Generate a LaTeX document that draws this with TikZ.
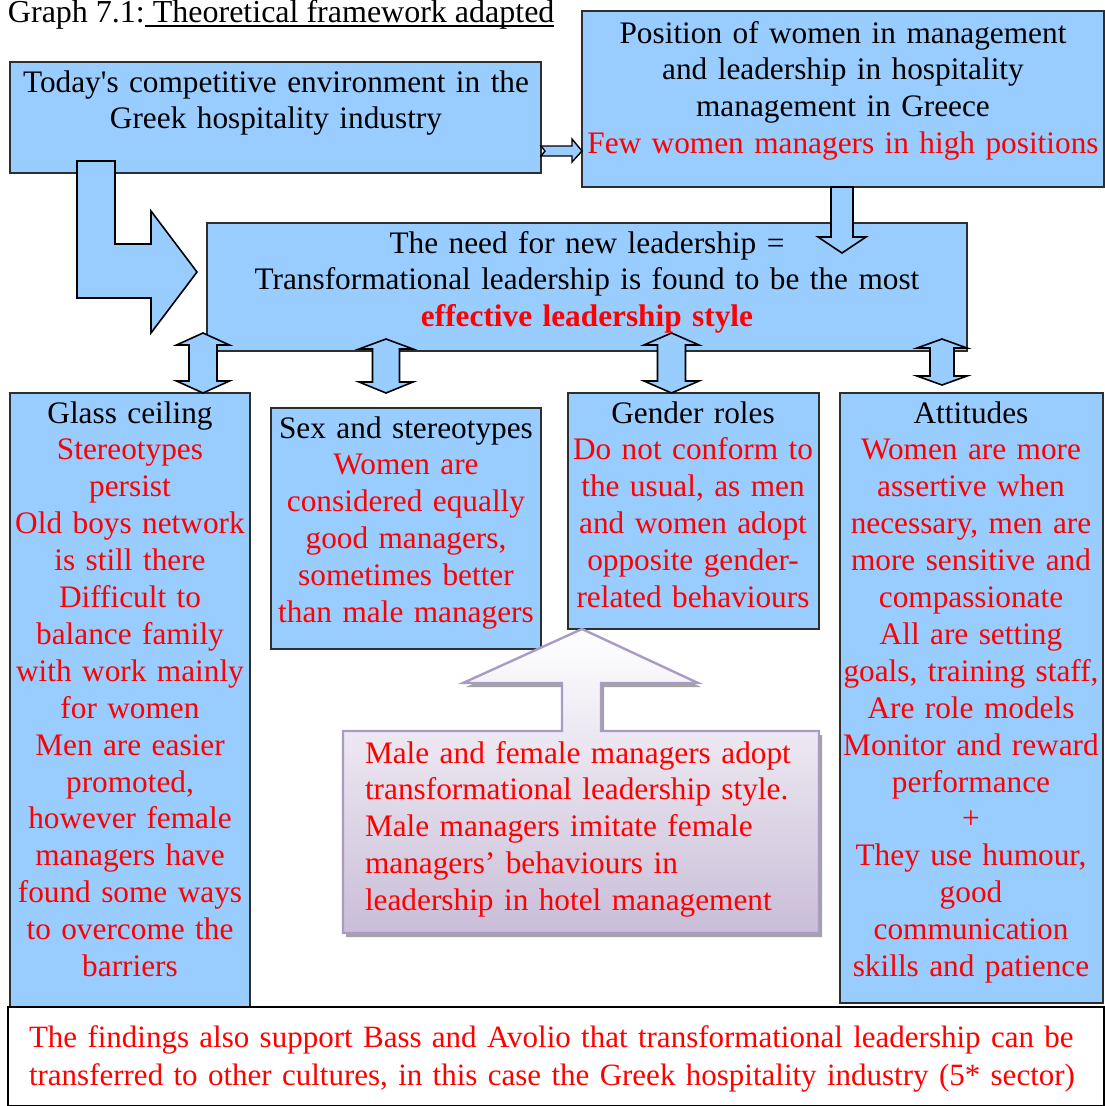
\documentclass[tikz,border=0pt]{standalone}
\usepackage{fontspec}
\setmainfont{Liberation Serif}
\setlength{\parindent}{0pt}

\definecolor{boxblue}{HTML}{99CCFF}
\definecolor{edgegray}{HTML}{2E2E2E}
\definecolor{textred}{HTML}{FF0000}
\definecolor{lilacedge}{HTML}{A99BC6}
\definecolor{lilacfill}{HTML}{C9BDD8}
\definecolor{shadowgray}{HTML}{A3A3A3}

% underline placed just under the baseline, as in a word processor
\newsavebox{\ulinebox}
\newcommand{\lowunderline}[1]{\sbox{\ulinebox}{#1}\rlap{\rule[-4pt]{\wd\ulinebox}{1.6pt}}\usebox{\ulinebox}}

% vertical two-headed block arrow: centre x, top tip, top head base, bottom head base, bottom tip, half shaft, half head
\newcommand{\twowayblock}[7]{%
  \filldraw[blockarrow] (#1,#2) -- (#1+#7,#3) -- (#1+#6,#3) -- (#1+#6,#4) -- (#1+#7,#4)
    -- (#1,#5) -- (#1-#7,#4) -- (#1-#6,#4) -- (#1-#6,#3) -- (#1-#7,#3) -- cycle;}

\begin{document}
\begin{tikzpicture}[x=1pt,y=-1pt,
  every node/.style={inner sep=0pt, outer sep=0pt},
  bigfont/.style={font=\fontsize{31.3}{36.9}\selectfont},
  panel/.style={draw=edgegray, line width=1.5pt, fill=boxblue, anchor=north west},
  whitepanel/.style={draw=black, line width=1.8pt, fill=white, anchor=north west},
  blockarrow/.style={fill=boxblue, draw=black, line width=1.6pt, line join=miter},
  ctext/.style={bigfont, align=center, text width=700pt, anchor=north},
  ltext/.style={bigfont, align=left, anchor=north west, text=textred}]

\useasboundingbox (0,0) rectangle (1105,1106);

% ---- panels ----
\node[panel, minimum width=531pt, minimum height=111pt] (env) at (10,62) {};
\node[panel, minimum width=522pt, minimum height=176pt] (women) at (582,11) {};
\node[panel, minimum width=760pt, minimum height=128pt] (need) at (207,223) {};
\node[panel, minimum width=240pt, minimum height=614pt] (glass) at (10,393) {};
\node[panel, minimum width=270pt, minimum height=241pt] (sexstereo) at (271,408) {};
\node[panel, minimum width=251pt, minimum height=236pt] (gender) at (568,393) {};
\node[panel, minimum width=263pt, minimum height=610pt] (attitudes) at (840,393) {};

% ---- block arrows ----
% bent arrow from the environment box into the leadership box
\filldraw[blockarrow] (77,161) -- (115,161) -- (115,244) -- (151,244) -- (151,211)
  -- (197,272) -- (151,333) -- (151,298) -- (77,298) -- cycle;
% small notched arrow from the environment box to the women box
\filldraw[blockarrow, line width=1.4pt] (541,146) -- (572,146) -- (572,139) -- (582,151)
  -- (572,162) -- (572,156) -- (541,156) -- (545,151) -- cycle;
% down arrow from the women box to the leadership box
\filldraw[blockarrow] (831,187) -- (853,187) -- (853,237) -- (866,237) -- (842,253)
  -- (818,237) -- (831,237) -- cycle;
% two-headed arrows between the leadership box and the four themes
\twowayblock{203}{333}{345}{381}{393}{14}{26.5}
\twowayblock{386}{339}{349}{382}{393}{13.5}{27}
\twowayblock{671.5}{333}{345}{381}{393}{14}{27.5}
\twowayblock{942}{339}{348}{376}{385}{12}{25}

% ---- lilac callout pointing up to the gender roles box ----
\fill[shadowgray] ([shift={(3,4)}]582,629) -- ([shift={(3,4)}]698,683) -- ([shift={(3,4)}]601,683)
  -- ([shift={(3,4)}]601,731) -- ([shift={(3,4)}]819,731) -- ([shift={(3,4)}]819,933)
  -- ([shift={(3,4)}]343,933) -- ([shift={(3,4)}]343,731) -- ([shift={(3,4)}]562,731)
  -- ([shift={(3,4)}]562,683) -- ([shift={(3,4)}]463,683) -- cycle;
\shadedraw[top color=white, bottom color=lilacfill, draw=lilacedge, line width=2.4pt, line join=miter]
  (582,629) -- (698,683) -- (601,683) -- (601,731) -- (819,731) -- (819,933)
  -- (343,933) -- (343,731) -- (562,731) -- (562,683) -- (463,683) -- cycle;

% ---- findings box along the bottom ----
\node[whitepanel, minimum width=1096pt, minimum height=99pt] (findings) at (8,1007) {};

% ---- texts ----
\node[font=\fontsize{32}{36.9}\selectfont, anchor=base west] (title) at (8,22.5)
  {Graph 7.1:\lowunderline{ Theoretical framework adapted}};

\node[ctext] (envtext) at (276,66.2)
  {\strut Today\textquotesingle s competitive environment in the\\Greek hospitality industry};

\node[ctext] (womentext) at (843,17.2)
  {\strut Position of women in management\\and leadership in hospitality\\management in Greece\\
   \color{textred}Few women managers in high positions};

\node[ctext] (needtext) at (587,227.2)
  {\strut The need for new leadership =\\Transformational leadership is found to be the most\\
   \color{textred}\bfseries effective leadership style};

\node[ctext] (glasstext) at (130,397.2)
  {\strut Glass ceiling\\\color{textred}Stereotypes\\persist\\Old boys network\\is still there\\
   Difficult to\\balance family\\with work mainly\\for women\\Men are easier\\promoted,\\
   however female\\managers have\\found some ways\\to overcome the\\barriers};

\node[ctext] (sextext) at (406,412.2)
  {\strut Sex and stereotypes\\\color{textred}Women are\\considered equally\\good managers,\\
   sometimes better\\than male managers};

\node[ctext] (gendertext) at (693,397.2)
  {\strut Gender roles\\\color{textred}Do not conform to\\the usual, as men\\and women adopt\\
   opposite gender-\\related behaviours};

\node[ctext] (attitudetext) at (971,397.2)
  {\strut Attitudes\\\color{textred}Women are more\\assertive when\\necessary, men are\\
   more sensitive and\\compassionate\\All are setting\\goals, training staff,\\Are role models\\
   Monitor and reward\\performance\\+\\They use humour,\\good\\communication\\skills and patience};

\node[ltext, text width=460pt] (callouttext) at (365,737.2)
  {\strut Male and female managers adopt\\transformational leadership style.\\
   Male managers imitate female\\managers’ behaviours in\\leadership in hotel management};

\node[ltext, font=\fontsize{31}{37.5}\selectfont, text width=1090pt] (findingstext) at (29,1021.5)
  {\strut The findings also support Bass and Avolio that transformational leadership can be\\
   transferred to other cultures, in this case the Greek hospitality industry (5* sector)};

\end{tikzpicture}
\end{document}
